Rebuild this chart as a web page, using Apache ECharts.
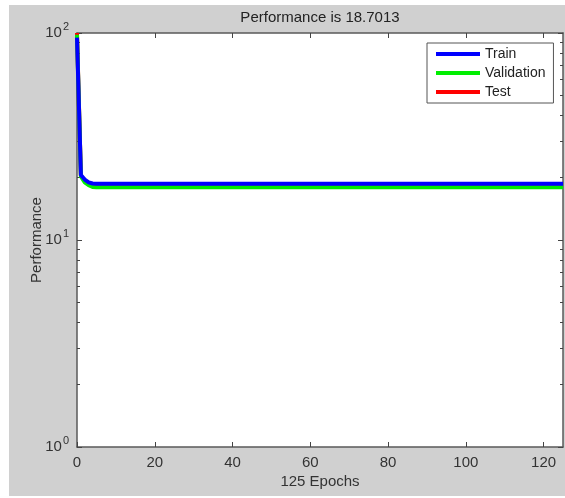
<!DOCTYPE html>
<html><head><meta charset="utf-8">
<script src="https://cdn.jsdelivr.net/npm/echarts@6/dist/echarts.min.js"></script>
<style>html,body{margin:0;padding:0;background:#fff}#c{width:565px;height:498px}</style>
</head><body><div id="c"></div>
<script>
const epochs = [0, 1, 2, 3, 4, 5, 125];
const trainPerf = [95, 20.6, 19.6, 19.0, 18.75, 18.70, 18.70];
const validationPerf = [98, 20.3, 19.0, 18.4, 18.05, 17.98, 17.98];
const testPerf = [100, 20.4, 19.3, 18.7, 18.4, 18.35, 18.35];
const xTicks = [0, 20, 40, 60, 80, 100, 120];
const yMajorTicks = [1, 10, 100];
const yMinorTicks = [2, 3, 4, 5, 6, 7, 8, 9, 20, 30, 40, 50, 60, 70, 80, 90];
const titleText = 'Performance is 18.7013';
const xName = '125 Epochs';
const yName = 'Performance';
const seriesNames = ['Train', 'Validation', 'Test'];

const FONT = "'Liberation Sans', Arial, sans-serif";
const pairs = (vals) => epochs.map((e, i) => [e, vals[i]]);
const chart = echarts.init(document.getElementById('c'), null, {renderer: 'canvas'});

const axisLine = {show: true, lineStyle: {color: '#5a5a5a', width: 1.5}};
const tickStyle = {color: '#444', width: 1};

function yAx(position, ticks, len, withLine, withLabel) {
  const ax = {
    type: 'log', logBase: 10, min: 1, max: 100, position: position,
    axisLine: withLine ? axisLine : {show: false},
    axisTick: {show: true, inside: true, length: len, customValues: ticks, lineStyle: tickStyle},
    splitLine: {show: false}, minorTick: {show: false},
    axisLabel: {show: false}
  };
  if (withLabel) {
    ax.axisLabel = {
      show: true, customValues: yMajorTicks, margin: 8, color: '#333', fontFamily: FONT,
      formatter: (v) => '{b|10}{s|' + Math.round(Math.log10(v)) + '}',
      rich: {
        b: {fontSize: 15, fontFamily: FONT, color: '#333'},
        s: {fontSize: 11, fontFamily: FONT, color: '#333', padding: [0, 0, 13, 1]}
      }
    };
    ax.name = yName;
    ax.nameLocation = 'middle';
    ax.nameGap = 33;
    ax.nameMoveOverlap = false;
    ax.nameTextStyle = {fontSize: 15, fontFamily: FONT, color: '#333'};
  }
  return ax;
}

function xAx(position, withLabel) {
  const ax = {
    type: 'value', min: 0, max: 125, position: position,
    axisLine: axisLine,
    axisTick: {show: true, inside: true, length: 5, customValues: xTicks, lineStyle: tickStyle},
    splitLine: {show: false},
    axisLabel: {show: false}
  };
  if (withLabel) {
    ax.axisLabel = {show: true, customValues: xTicks, fontSize: 15, fontFamily: FONT, color: '#333', margin: 8};
    ax.name = xName;
    ax.nameLocation = 'middle';
    ax.nameGap = 27;
    ax.nameMoveOverlap = false;
    ax.nameTextStyle = {fontSize: 15, fontFamily: FONT, color: '#333'};
  }
  return ax;
}

const option = {
  animation: false,
  backgroundColor: '#d0d0d0',
  textStyle: {fontFamily: FONT},
  graphic: [
    {type: 'rect', shape: {x: 0, y: 0, width: 9, height: 498}, style: {fill: '#fff'}, silent: true},
    {type: 'rect', shape: {x: 0, y: 0, width: 565, height: 5}, style: {fill: '#fff'}, silent: true},
    {type: 'rect', shape: {x: 0, y: 496, width: 565, height: 2}, style: {fill: '#fff'}, silent: true},
    {type: 'text', x: 320, y: 18, style: {text: titleText, fontSize: 15, fontFamily: FONT, fill: '#222', textAlign: 'center', textVerticalAlign: 'middle'}}
  ],
  grid: {left: 77, right: 2, top: 33, bottom: 51, show: true, backgroundColor: '#fff', borderWidth: 0},
  legend: {
    data: seriesNames, orient: 'vertical', left: 427, top: 43,
    icon: 'rect', itemWidth: 44, itemHeight: 4, itemGap: 5,
    padding: [4, 8, 4, 9], borderColor: '#555', borderWidth: 1, backgroundColor: '#fff',
    textStyle: {fontSize: 14, fontFamily: FONT, color: '#222'}
  },
  xAxis: [xAx('bottom', true), xAx('top', false)],
  yAxis: [
    yAx('left', yMajorTicks, 5, true, true),
    yAx('left', yMinorTicks, 3, false, false),
    yAx('right', yMajorTicks, 5, true, false),
    yAx('right', yMinorTicks, 3, false, false)
  ],
  series: [
    {name: 'Test', type: 'line', data: pairs(testPerf), showSymbol: false, color: '#ff0000', lineStyle: {width: 4, color: '#ff0000'}, z: 2},
    {name: 'Validation', type: 'line', data: pairs(validationPerf), showSymbol: false, color: '#00ee00', lineStyle: {width: 4, color: '#00ee00'}, z: 3},
    {name: 'Train', type: 'line', data: pairs(trainPerf), showSymbol: false, color: '#0000ff', lineStyle: {width: 4, color: '#0000ff'}, z: 4}
  ]
};
chart.setOption(option);
</script></body></html>
